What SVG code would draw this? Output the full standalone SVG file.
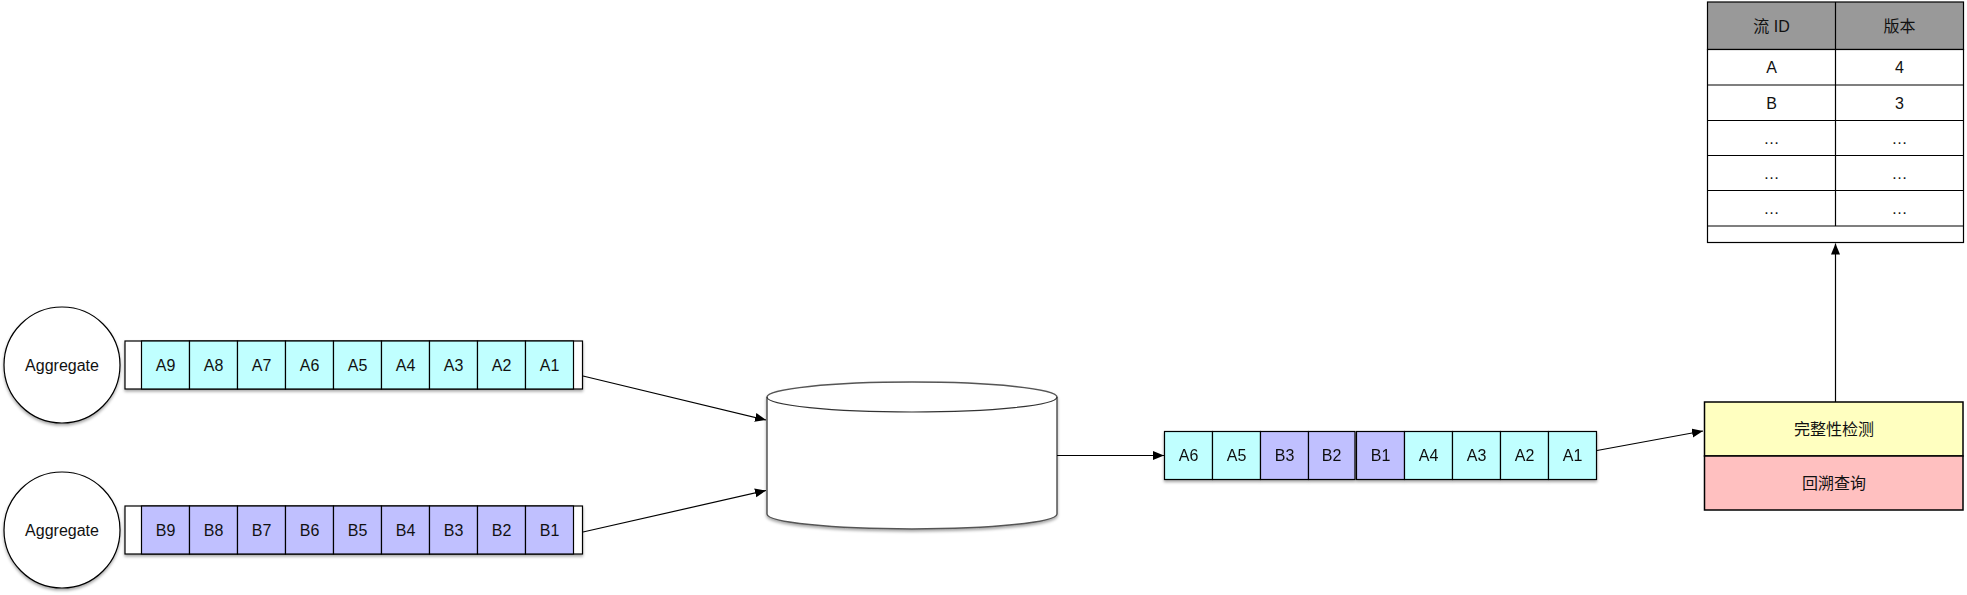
<svg xmlns="http://www.w3.org/2000/svg" width="1967" height="595" viewBox="0 0 1967 595">
<style>
text{font-family:"Liberation Sans","Noto Sans CJK SC",sans-serif;font-size:16px;fill:#111;text-anchor:middle;dominant-baseline:central}
.st{stroke:#000;stroke-width:1.2}
.a{fill:#C0FFFF}
.b{fill:#C0C0FF}
.w{fill:#fff}
.ln{fill:none;stroke:#000;stroke-width:1.2}
</style>
<defs>
<filter id="sh" x="-10%" y="-10%" width="120%" height="130%">
<feDropShadow dx="0" dy="2" stdDeviation="1.5" flood-color="#000" flood-opacity="0.35"/>
</filter>
<marker id="ah" markerWidth="12" markerHeight="10" refX="11" refY="4.5" orient="auto" markerUnits="userSpaceOnUse">
<path d="M0,0 L11,4.5 L0,9 Z" fill="#000"/>
</marker>
</defs>

<g id="aggregate-a">
<circle cx="62" cy="365" r="58" class="w st" filter="url(#sh)"/>
<text x="62" y="365">Aggregate</text>
</g>
<g id="aggregate-b">
<circle cx="62" cy="530" r="58" class="w st" filter="url(#sh)"/>
<text x="62" y="530">Aggregate</text>
</g>

<g id="queue-a">
<rect x="125" y="341" width="457.5" height="48" class="w st" filter="url(#sh)"/>
<rect x="141.5" y="341" width="48" height="48" class="a st"/><text x="165.5" y="365">A9</text>
<rect x="189.5" y="341" width="48" height="48" class="a st"/><text x="213.5" y="365">A8</text>
<rect x="237.5" y="341" width="48" height="48" class="a st"/><text x="261.5" y="365">A7</text>
<rect x="285.5" y="341" width="48" height="48" class="a st"/><text x="309.5" y="365">A6</text>
<rect x="333.5" y="341" width="48" height="48" class="a st"/><text x="357.5" y="365">A5</text>
<rect x="381.5" y="341" width="48" height="48" class="a st"/><text x="405.5" y="365">A4</text>
<rect x="429.5" y="341" width="48" height="48" class="a st"/><text x="453.5" y="365">A3</text>
<rect x="477.5" y="341" width="48" height="48" class="a st"/><text x="501.5" y="365">A2</text>
<rect x="525.5" y="341" width="48" height="48" class="a st"/><text x="549.5" y="365">A1</text>
</g>

<g id="queue-b">
<rect x="125" y="506" width="457.5" height="48" class="w st" filter="url(#sh)"/>
<rect x="141.5" y="506" width="48" height="48" class="b st"/><text x="165.5" y="530">B9</text>
<rect x="189.5" y="506" width="48" height="48" class="b st"/><text x="213.5" y="530">B8</text>
<rect x="237.5" y="506" width="48" height="48" class="b st"/><text x="261.5" y="530">B7</text>
<rect x="285.5" y="506" width="48" height="48" class="b st"/><text x="309.5" y="530">B6</text>
<rect x="333.5" y="506" width="48" height="48" class="b st"/><text x="357.5" y="530">B5</text>
<rect x="381.5" y="506" width="48" height="48" class="b st"/><text x="405.5" y="530">B4</text>
<rect x="429.5" y="506" width="48" height="48" class="b st"/><text x="453.5" y="530">B3</text>
<rect x="477.5" y="506" width="48" height="48" class="b st"/><text x="501.5" y="530">B2</text>
<rect x="525.5" y="506" width="48" height="48" class="b st"/><text x="549.5" y="530">B1</text>
</g>

<g id="storage">
<path d="M767,397 A145,15 0 0,1 1057,397 L1057,514 A145,15 0 0,1 767,514 Z" fill="#fff" stroke="#555" stroke-width="1.5" filter="url(#sh)"/>
<path d="M767,397 A145,15 0 0,0 1057,397" fill="none" stroke="#333" stroke-width="1.2"/>
</g>

<g id="queue-merged">
<g filter="url(#sh)">
<rect x="1164.5" y="431.5" width="48" height="48" class="a st"/><text x="1188.5" y="455.5">A6</text>
<rect x="1212.5" y="431.5" width="48" height="48" class="a st"/><text x="1236.5" y="455.5">A5</text>
<rect x="1260.5" y="431.5" width="48" height="48" class="b st"/><text x="1284.5" y="455.5">B3</text>
<rect x="1308.5" y="431.5" width="46.5" height="48" class="b st"/><text x="1331.5" y="455.5">B2</text>
</g>
<g filter="url(#sh)">
<rect x="1356.5" y="431.5" width="48" height="48" class="b st"/><text x="1380.5" y="455.5">B1</text>
<rect x="1404.5" y="431.5" width="48" height="48" class="a st"/><text x="1428.5" y="455.5">A4</text>
<rect x="1452.5" y="431.5" width="48" height="48" class="a st"/><text x="1476.5" y="455.5">A3</text>
<rect x="1500.5" y="431.5" width="48" height="48" class="a st"/><text x="1524.5" y="455.5">A2</text>
<rect x="1548.5" y="431.5" width="48" height="48" class="a st"/><text x="1572.5" y="455.5">A1</text>
</g>
</g>

<g id="checker">
<rect x="1704.5" y="402" width="258.5" height="54" fill="#FFFFC0" stroke="#000" stroke-width="1.5"/>
<text x="1834" y="429">完整性检测</text>
<rect x="1704.5" y="456" width="258.5" height="54" fill="#FFC0C0" stroke="#000" stroke-width="1.5"/>
<text x="1834" y="483">回溯查询</text>
</g>

<g id="version-table">
<rect x="1707.5" y="2" width="256" height="47.5" fill="#999" stroke="#000" stroke-width="1.2"/>
<rect x="1707.5" y="49.5" width="256" height="193" fill="#fff" stroke="#000" stroke-width="1.2"/>
<path d="M1707.5,85 H1963.5 M1707.5,120.5 H1963.5 M1707.5,155.5 H1963.5 M1707.5,190.5 H1963.5 M1707.5,226 H1963.5 M1835.5,2 V226" class="ln"/>
<text x="1771.5" y="26">流 ID</text><text x="1899.5" y="26">版本</text>
<text x="1771.5" y="67.5">A</text><text x="1899.5" y="67.5">4</text>
<text x="1771.5" y="103">B</text><text x="1899.5" y="103">3</text>
<text x="1771.5" y="138">…</text><text x="1899.5" y="138">…</text>
<text x="1771.5" y="173">…</text><text x="1899.5" y="173">…</text>
<text x="1771.5" y="208.5">…</text><text x="1899.5" y="208.5">…</text>
</g>

<g id="connectors">
<line x1="583" y1="376" x2="766" y2="420" class="ln" marker-end="url(#ah)"/>
<line x1="583" y1="532" x2="766" y2="490.5" class="ln" marker-end="url(#ah)"/>
<line x1="1057" y1="455.5" x2="1164" y2="455.5" class="ln" marker-end="url(#ah)"/>
<line x1="1597" y1="450.5" x2="1703" y2="431" class="ln" marker-end="url(#ah)"/>
<line x1="1835.5" y1="402" x2="1835.5" y2="243.5" class="ln" marker-end="url(#ah)"/>
</g>
</svg>
